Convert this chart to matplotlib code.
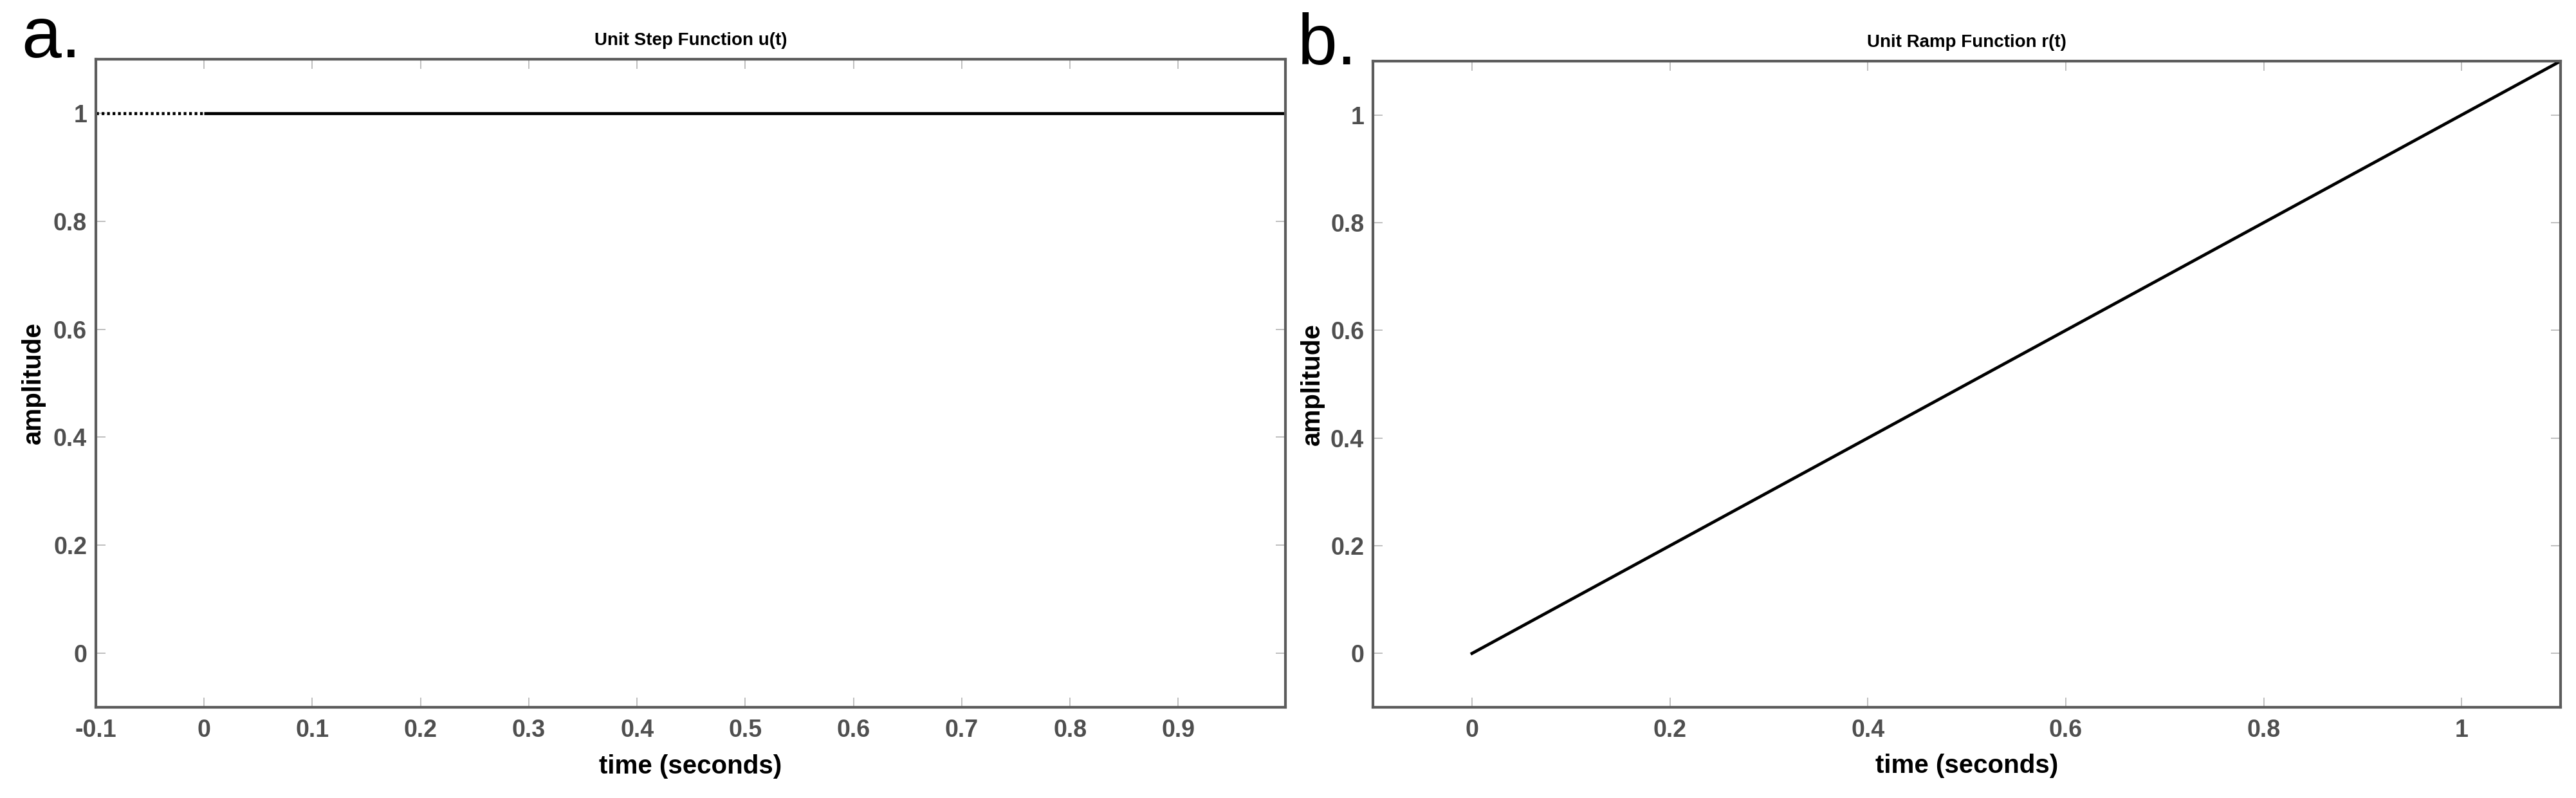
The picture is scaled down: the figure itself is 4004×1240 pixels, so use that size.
import matplotlib
matplotlib.use('Agg')
import matplotlib.pyplot as plt
from matplotlib.ticker import FuncFormatter

# Daten
step_neg_t = [-0.1, 0.0]
step_neg_u = [1.0, 1.0]
step_pos_t = [0.0, 0.999]
step_pos_u = [1.0, 1.0]
ramp_t = [0.0, 1.1]
ramp_r = [0.0, 1.1]

step_xticks = [-0.1, 0, 0.1, 0.2, 0.3, 0.4, 0.5, 0.6, 0.7, 0.8, 0.9]
ramp_xticks = [0, 0.2, 0.4, 0.6, 0.8, 1]
yticks = [0, 0.2, 0.4, 0.6, 0.8, 1]

plt.rcParams['font.family'] = ['Liberation Sans', 'DejaVu Sans']

spine_col = '#5c5c5c'
tick_col = '#b4b4b4'
label_col = '#4f4f4f'

fig = plt.figure(figsize=(40.04, 12.4), dpi=100)
ax1 = fig.add_axes([0.0372, 0.1137, 0.4618, 0.8121])
ax2 = fig.add_axes([0.5330, 0.1137, 0.4610, 0.8097])

fmt = FuncFormatter(lambda v, p: '%g' % round(v, 6))


def style(ax, title):
    for s in ax.spines.values():
        s.set_color(spine_col)
        s.set_linewidth(3.0)
    ax.tick_params(direction='in', length=11, width=1.2, color=tick_col,
                   top=True, right=True, labelsize=27, labelcolor=label_col)
    ax.tick_params(axis='x', pad=13)
    ax.tick_params(axis='y', pad=10)
    for lab in ax.get_xticklabels() + ax.get_yticklabels():
        lab.set_fontweight('bold')
    ax.xaxis.set_major_formatter(fmt)
    ax.yaxis.set_major_formatter(fmt)
    ax.set_title(title, fontsize=20, fontweight='bold', pad=16)
    ax.set_xlabel('time (seconds)', fontsize=29, fontweight='bold')
    ax.set_ylabel('amplitude', fontsize=29, fontweight='bold')
    ax.xaxis.set_label_coords(0.5, -0.091)
    ax.xaxis.label.set_verticalalignment('center')
    ax.yaxis.label.set_verticalalignment('center')


# a. Sprungfunktion
ax1.plot(step_neg_t, step_neg_u, color='black', lw=3.4, linestyle=(0, (0.9, 0.9)),
         solid_capstyle='butt')
ax1.plot(step_pos_t, step_pos_u, color='black', lw=3.4, solid_capstyle='butt')
ax1.set_xlim(-0.1, 0.999)
ax1.set_ylim(-0.1, 1.1)
ax1.set_xticks(step_xticks)
ax1.set_yticks(yticks)
style(ax1, 'Unit Step Function u(t)')
ax1.yaxis.set_label_coords(-0.0525, 0.5)

# b. Rampenfunktion
ax2.plot(ramp_t, ramp_r, color='black', lw=3.4)
ax2.set_xlim(-0.1, 1.1)
ax2.set_ylim(-0.1, 1.1)
ax2.set_xticks(ramp_xticks)
ax2.set_yticks(yticks)
style(ax2, 'Unit Ramp Function r(t)')
ax2.yaxis.set_label_coords(-0.051, 0.5)

fig.text(0.0082, 0.928, 'a.', fontsize=80, color='black', ha='left', va='baseline')
fig.text(0.5036, 0.919, 'b.', fontsize=80, color='black', ha='left', va='baseline')

fig.savefig('out.png', dpi=100, facecolor='white')
